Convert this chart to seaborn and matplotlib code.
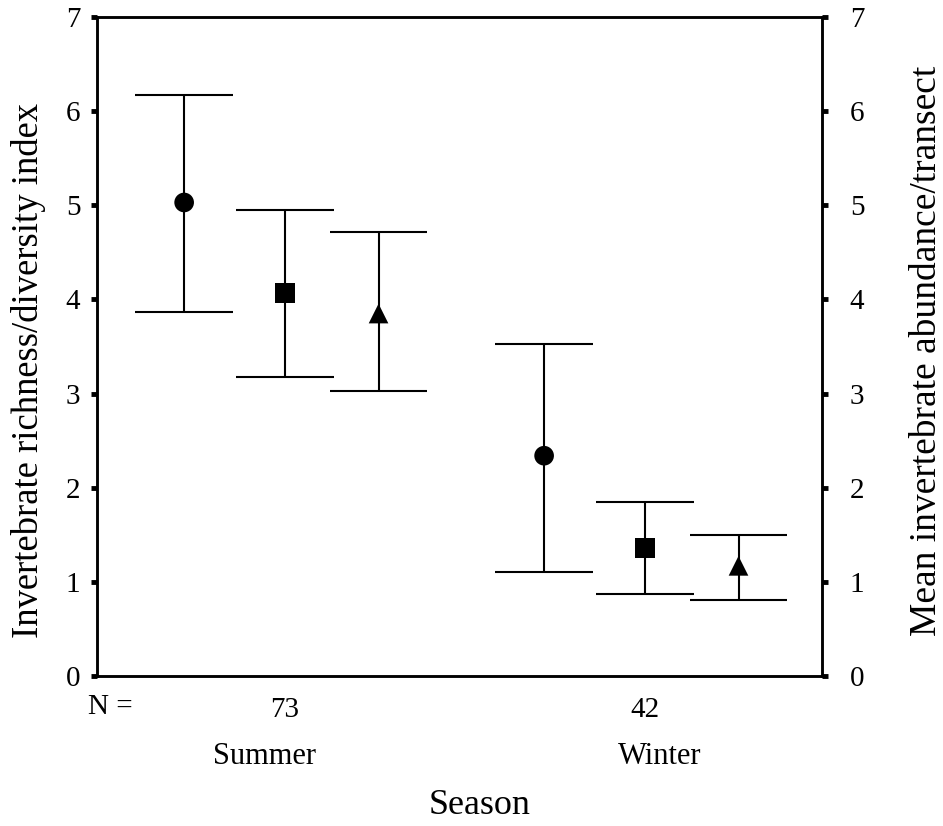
import matplotlib
matplotlib.use("Agg")
import matplotlib.pyplot as plt
import matplotlib.transforms as mtransforms
import seaborn as sns
import pandas as pd
import numpy as np

sns.set_theme(style="white")
plt.rcParams['font.family'] = ['Liberation Serif', 'DejaVu Serif']
plt.rcParams['text.color'] = 'black'
plt.rcParams['axes.labelcolor'] = 'black'
plt.rcParams['xtick.color'] = 'black'
plt.rcParams['ytick.color'] = 'black'

# ---- data ----
seasons = ["Summer", "Winter"]
season_n = ["73", "42"]
series = ["Richness", "Diversity", "Abundance"]
series_markers = {"Richness": "o", "Diversity": "s", "Abundance": "^"}
offsets = [-0.28, 0.0, 0.26]

mean_summer = [5.03, 4.07, 3.85]
low_summer = [3.87, 3.18, 3.03]
high_summer = [6.17, 4.95, 4.72]

mean_winter = [2.34, 1.36, 1.17]
low_winter = [1.10, 0.875, 0.81]
high_winter = [3.53, 1.85, 1.50]

rows = []
for si, (m, lo, hi) in enumerate([(mean_summer, low_summer, high_summer),
                                  (mean_winter, low_winter, high_winter)]):
    for k, name in enumerate(series):
        rows.append(dict(season=seasons[si], series=name, x=si + 1 + offsets[k],
                         mean=m[k], low=lo[k], high=hi[k]))
df = pd.DataFrame(rows)

fig = plt.figure(figsize=(9.43, 8.26), dpi=100)
ax = fig.add_axes([0.1029, 0.1816, 0.7688, 0.7978])

cap_half = 0.136
ax.vlines(df["x"], df["low"], df["high"], color="black", lw=1.5, zorder=2)
ax.hlines(df["low"], df["x"] - cap_half, df["x"] + cap_half, color="black", lw=1.5, zorder=2)
ax.hlines(df["high"], df["x"] - cap_half, df["x"] + cap_half, color="black", lw=1.5, zorder=2)

sns.scatterplot(data=df, x="x", y="mean", style="series", markers=series_markers,
                color="black", s=200, edgecolor="black", linewidth=0, legend=False,
                ax=ax, zorder=3)

ax.set_xlim(0.478, 2.492)
ax.set_ylim(0, 7)
ax.set_yticks(range(8))
ax.set_xticks([0.478, 1, 2])
ax.set_xticklabels(["", season_n[0], season_n[1]])
ax.set_xlabel("")
ax.set_ylabel("Invertebrate richness/diversity index", fontsize=26.4)
ax.yaxis.set_label_coords(-0.070, 0.464)

for sp in ax.spines.values():
    sp.set_visible(True)
    sp.set_color("black")
    sp.set_linewidth(1.8)

ax.tick_params(axis="both", direction="out", length=4, width=3.5, color="black",
               labelsize=21, labelcolor="black")
ax.tick_params(axis="y", pad=8)
ax.tick_params(axis="x", pad=11, labelsize=21)

ax2 = ax.twinx()
ax2.set_ylim(0, 7)
ax2.set_yticks(range(8))
ax2.set_ylabel("Mean invertebrate abundance/transect", fontsize=27, rotation=90)
ax2.yaxis.set_label_coords(1.121, 0.493)
ax2.tick_params(axis="y", direction="out", length=4, width=3.5, color="black",
                labelsize=21, labelcolor="black", pad=16)
for sp in ax2.spines.values():
    sp.set_linewidth(1.8)
    sp.set_color("black")
ax2.grid(False)
ax.grid(False)

trans = mtransforms.blended_transform_factory(ax.transData, fig.transFigure)
ax.text(0.515, 1 - 707 / 826, "N =", transform=trans, ha="center", va="center", fontsize=21)
ax.text(0.944, 1 - 757 / 826, seasons[0], transform=trans, ha="center", va="center", fontsize=22)
ax.text(2.042, 1 - 757 / 826, seasons[1], transform=trans, ha="center", va="center", fontsize=22)
fig.text(480 / 943, 1 - 805 / 826, "Season", ha="center", va="center", fontsize=26)

fig.savefig("out.png", dpi=100)
